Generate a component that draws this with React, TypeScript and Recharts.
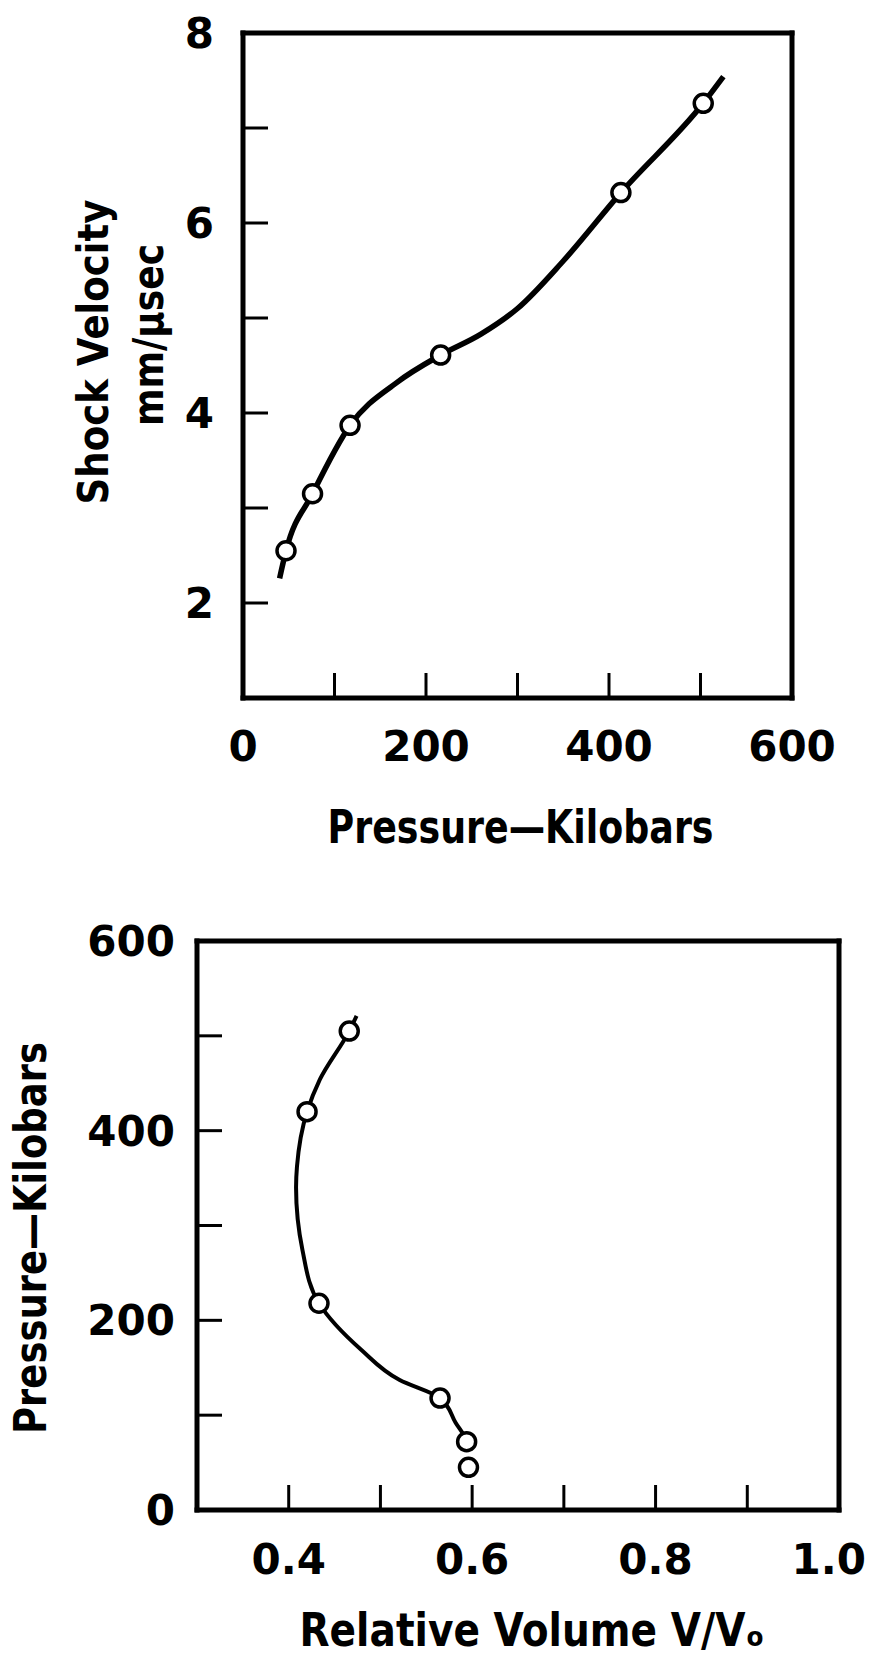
import React from 'react';
import { ComposedChart, Line, Scatter, XAxis, YAxis } from 'recharts';

// ---------- Top chart data: Shock velocity vs pressure ----------
const shockPressure = [47, 76, 117, 216, 413, 503];
const shockVelocity = [2.55, 3.15, 3.87, 4.61, 6.32, 7.26];
const shockCurvePressure = [40, 47, 76, 117, 168, 216, 260, 300, 350, 413, 503, 525];
const shockCurveVelocity = [2.26, 2.55, 3.15, 3.87, 4.32, 4.61, 4.83, 5.1, 5.6, 6.32, 7.26, 7.54];
const topXTicks = [0, 100, 200, 300, 400, 500, 600];
const topXLabels = [0, 200, 400, 600];
const topYTicks = [1, 2, 3, 4, 5, 6, 7, 8];
const topYLabels = [2, 4, 6, 8];

// ---------- Bottom chart data: Pressure vs relative volume ----------
const hugVolume = [0.596, 0.594, 0.565, 0.433, 0.42, 0.466];
const hugPressure = [45, 72, 118, 218, 420, 505];
const hugCurvePressure = [62, 72, 92, 118, 137, 169, 218, 274, 340, 362, 420, 454, 505, 521];
const hugCurveVolume = [0.595, 0.594, 0.582, 0.565, 0.521, 0.479, 0.433, 0.415, 0.408, 0.409, 0.42, 0.434, 0.466, 0.474];
const botXTicks = [0.3, 0.4, 0.5, 0.6, 0.7, 0.8, 0.9, 1.0];
const botXLabels = [0.4, 0.6, 0.8, 1.0];
const botYTicks = [0, 100, 200, 300, 400, 500, 600];
const botYLabels = [0, 200, 400, 600];

const FONT = "'DejaVu Sans', sans-serif";
const INK = '#000';

const TOP = { w: 872, h: 870, left: 243, right: 792, top: 33, bottom: 698 };
const BOT = { w: 872, h: 786, left: 197, right: 839, top: 71, bottom: 640 };

const frameLine = { stroke: INK, strokeWidth: 5, strokeLinecap: 'square' as const };
const tickLineStyle = { stroke: INK, strokeWidth: 3 };

function makeTick(labels: number[], fmt: (v: number) => string, dx: number, dy: number, anchor: string, maxRight = 10000) {
  return (props: any) => {
    const { x, y, payload } = props;
    const v = payload.value;
    if (!labels.some((l) => Math.abs(l - v) < 1e-9)) return <g />;
    const txt = fmt(v);
    let tx = x + dx;
    let ta = anchor;
    const halfW = (txt.length * 0.62 * 42) / 2;
    if (anchor === 'middle' && tx + halfW > maxRight) {
      tx = maxRight;
      ta = 'end';
    }
    return (
      <text x={tx} y={y + dy} textAnchor={ta} fontFamily={FONT} fontWeight="bold" fontSize={42} fill={INK}>
        {txt}
      </text>
    );
  };
}
const noTick = () => <g />;

const titleProps = { fontFamily: FONT, fontWeight: 'bold' as const, fill: INK, lengthAdjust: 'spacingAndGlyphs' };

function RotText({ cx, cy, len, size, children }: any) {
  return (
    <text
      x={cx}
      y={cy}
      transform={`rotate(-90 ${cx} ${cy})`}
      textAnchor="middle"
      dominantBaseline="central"
      fontSize={size}
      textLength={len}
      {...titleProps}
    >
      {children}
    </text>
  );
}

export default function App() {
  const shockPoints = shockPressure.map((p, i) => ({ p, v: shockVelocity[i] }));
  const shockCurve = shockCurvePressure.map((p, i) => ({ p, v: shockCurveVelocity[i] }));
  const hugPoints = hugVolume.map((vol, i) => ({ vol, pr: hugPressure[i] }));
  const hugCurve = hugCurvePressure.map((pr, i) => ({ vol: hugCurveVolume[i], pr }));

  const circle = (props: any) => (
    <circle cx={props.cx} cy={props.cy} r={9} fill="#fff" stroke={INK} strokeWidth={3.5} />
  );

  return (
    <div style={{ position: 'absolute', left: 0, top: 0, width: 872, height: 1656, background: '#fff' }}>
      <div style={{ position: 'absolute', left: 0, top: 0 }}>
        <ComposedChart
          width={TOP.w}
          height={TOP.h}
          margin={{ top: TOP.top - 30, right: TOP.w - TOP.right - 60, bottom: TOP.h - TOP.bottom - 60, left: TOP.left - 60 }}
        >
          <XAxis
            xAxisId="b"
            dataKey="p"
            type="number"
            domain={[0, 600]}
            ticks={topXTicks}
            interval={0}
            height={60}
            orientation="bottom"
            axisLine={frameLine}
            tickLine={tickLineStyle}
            tickSize={-25}
            tickMargin={0}
            tick={makeTick(topXLabels, (v) => String(v), 0, 88, 'middle')}
            label={() => (
              <text x={(TOP.left + TOP.right) / 2 + 3} y={TOP.bottom + 145} textAnchor="middle" fontSize={46} textLength={386} {...titleProps}>
                Pressure—Kilobars
              </text>
            )}
          />
          <XAxis
            xAxisId="t"
            type="number"
            domain={[0, 600]}
            ticks={topXTicks}
            interval={0}
            height={30}
            orientation="top"
            axisLine={frameLine}
            tickLine={tickLineStyle}
            tickSize={-25}
            tick={noTick}
          />
          <YAxis
            yAxisId="l"
            dataKey="v"
            type="number"
            domain={[1, 8]}
            ticks={topYTicks}
            interval={0}
            width={60}
            orientation="left"
            axisLine={frameLine}
            tickLine={tickLineStyle}
            tickSize={-25}
            tickMargin={0}
            tick={makeTick(topYLabels, (v) => String(v), -54, 15, 'end')}
            label={() => (
              <g>
                <RotText cx={93} cy={352} len={305} size={42}>Shock Velocity</RotText>
                <RotText cx={148} cy={335} len={182} size={42}>mm/μsec</RotText>
              </g>
            )}
          />
          <YAxis
            yAxisId="r"
            type="number"
            domain={[1, 8]}
            ticks={topYTicks}
            interval={0}
            width={60}
            orientation="right"
            axisLine={frameLine}
            tickLine={tickLineStyle}
            tickSize={-25}
            tick={noTick}
          />
          <Line
            xAxisId="b"
            yAxisId="l"
            data={shockCurve}
            dataKey="v"
            type="monotone"
            stroke={INK}
            strokeWidth={5.5}
            dot={false}
            activeDot={false}
            isAnimationActive={false}
          />
          <Scatter
            xAxisId="b"
            yAxisId="l"
            data={shockPoints}
            dataKey="v"
            shape={circle}
            isAnimationActive={false}
          />
        </ComposedChart>
      </div>

      <div style={{ position: 'absolute', left: 0, top: 870 }}>
        <ComposedChart
          width={BOT.w}
          height={BOT.h}
          margin={{ top: BOT.top - 30, right: BOT.w - BOT.right - 30, bottom: BOT.h - BOT.bottom - 60, left: BOT.left - 60 }}
        >
          <XAxis
            xAxisId="b"
            dataKey="vol"
            type="number"
            domain={[0.3, 1.0]}
            ticks={botXTicks}
            interval={0}
            height={60}
            orientation="bottom"
            axisLine={frameLine}
            tickLine={tickLineStyle}
            tickSize={-25}
            tickMargin={0}
            tick={makeTick(botXLabels, (v) => v.toFixed(1), 0, 89, 'middle', 866)}
            label={() => (
              <text x={(BOT.left + BOT.right) / 2 + 14} y={BOT.bottom + 136} textAnchor="middle" fontSize={46} textLength={465} {...titleProps}>
                Relative Volume V/Vₒ
              </text>
            )}
          />
          <XAxis
            xAxisId="t"
            type="number"
            domain={[0.3, 1.0]}
            ticks={botXTicks}
            interval={0}
            height={30}
            orientation="top"
            axisLine={frameLine}
            tickLine={tickLineStyle}
            tickSize={-25}
            tick={noTick}
          />
          <YAxis
            yAxisId="l"
            dataKey="pr"
            type="number"
            domain={[0, 600]}
            ticks={botYTicks}
            interval={0}
            width={60}
            orientation="left"
            axisLine={frameLine}
            tickLine={tickLineStyle}
            tickSize={-25}
            tickMargin={0}
            tick={makeTick(botYLabels, (v) => String(v), -47, 15, 'end')}
            label={() => (
              <RotText cx={30} cy={368} len={392} size={44}>Pressure—Kilobars</RotText>
            )}
          />
          <YAxis
            yAxisId="r"
            type="number"
            domain={[0, 600]}
            ticks={botYTicks}
            interval={0}
            width={30}
            orientation="right"
            axisLine={frameLine}
            tickLine={tickLineStyle}
            tickSize={-25}
            tick={noTick}
          />
          <Line
            xAxisId="b"
            yAxisId="l"
            data={hugCurve}
            dataKey="pr"
            type={'monotoneY' as any}
            stroke={INK}
            strokeWidth={4}
            dot={false}
            activeDot={false}
            isAnimationActive={false}
          />
          <Scatter
            xAxisId="b"
            yAxisId="l"
            data={hugPoints}
            dataKey="pr"
            shape={circle}
            isAnimationActive={false}
          />
        </ComposedChart>
      </div>
    </div>
  );
}
